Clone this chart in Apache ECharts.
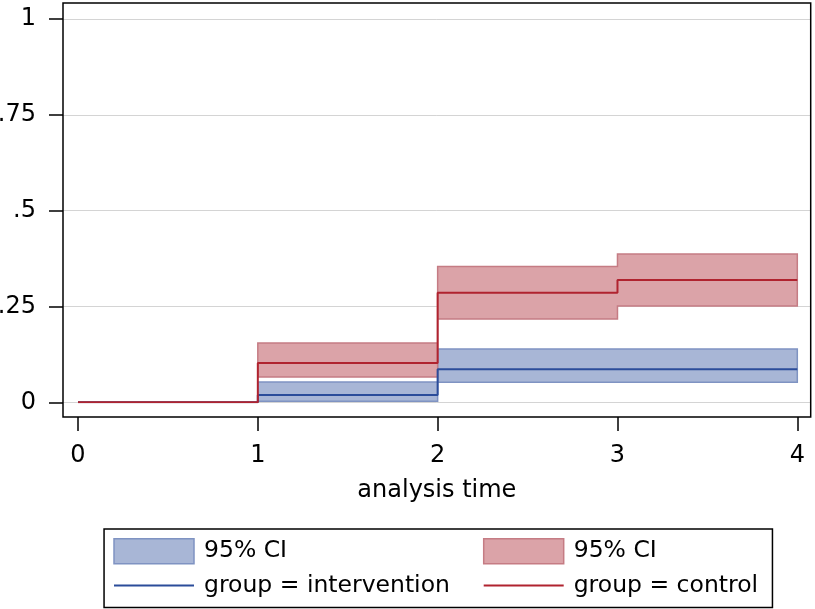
<!DOCTYPE html>
<html>
<head>
<meta charset="utf-8">
<script src="https://cdn.jsdelivr.net/npm/echarts@6/dist/echarts.min.js"></script>
<style>
html,body{margin:0;padding:0;background:#fff;}
#chart{width:815px;height:609px;}
</style>
</head>
<body>
<div id="chart"></div>
<script>
// ---- data ----
const xTicks = [0, 1, 2, 3, 4];
const yTicks = [0, 0.25, 0.5, 0.75, 1];
const yTickLabels = ['0', '.25', '.5', '.75', '1'];

const intervTimes = [0, 1, 2, 4];
const intervEst = [0, 0.019, 0.086, 0.086];
const intervBandEdges = [1, 2, 4];
const intervLo = [0.003, 0.052];
const intervHi = [0.053, 0.139];

const controlTimes = [0, 1, 2, 3, 4];
const controlEst = [0, 0.1025, 0.286, 0.319, 0.319];
const controlBandEdges = [1, 2, 3, 4];
const controlLo = [0.066, 0.217, 0.251];
const controlHi = [0.155, 0.354, 0.387];

const xTitle = 'analysis time';
const ciName1 = '95% CI';
const ciName2 = '95% CI ';
const lineName1 = 'group = intervention';
const lineName2 = 'group = control';

// ---- styles ----
const blueFill = '#a8b6d6', blueEdge = '#7f93c2', blueLine = '#2b4c9a';
const redFill = '#dba3a8', redEdge = '#c57c84', redLine = '#b0232f';
const FONT = '"DejaVu Sans", sans-serif';
const XMIN = -0.0834, XMAX = 4.0745;

function bandRender(edges, lo, hi, fill, stroke) {
  return function (params, api) {
    const pts = [];
    for (let i = 0; i < hi.length; i++) {
      pts.push(api.coord([edges[i], hi[i]]));
      pts.push(api.coord([edges[i + 1], hi[i]]));
    }
    for (let i = lo.length - 1; i >= 0; i--) {
      pts.push(api.coord([edges[i + 1], lo[i]]));
      pts.push(api.coord([edges[i], lo[i]]));
    }
    return {
      type: 'polygon',
      shape: { points: pts },
      style: { fill: fill, stroke: stroke, lineWidth: 1.5 }
    };
  };
}

const legendText = { fontSize: 23.5, color: '#000', fontFamily: FONT, padding: [0, 0, 0, 5] };

const chart = echarts.init(document.getElementById('chart'));
chart.setOption({
  animation: false,
  backgroundColor: '#fff',
  grid: [
    { left: 63, right: 4.3, top: 19, bottom: 206.7, outerBoundsMode: 'none', containLabel: false },
    { left: 63, right: 4.3, top: 3, bottom: 192, outerBoundsMode: 'none', containLabel: false, show: true, borderColor: '#000', borderWidth: 1.5, backgroundColor: 'transparent', z: 10 }
  ],
  xAxis: [
    { type: 'value', gridIndex: 0, min: XMIN, max: XMAX, show: false, axisLine: { onZero: false } },
    {
      type: 'value', gridIndex: 1, min: XMIN, max: XMAX, position: 'bottom',
      axisLine: { show: false, onZero: false },
      axisTick: { show: true, inside: false, length: 14, customValues: xTicks, lineStyle: { color: '#000', width: 1.5 } },
      axisLabel: { customValues: xTicks, margin: 27, fontSize: 24, color: '#000', fontFamily: FONT },
      splitLine: { show: false },
      name: xTitle, nameLocation: 'middle', nameGap: 62,
      nameTextStyle: { fontSize: 24, color: '#000', fontFamily: FONT }
    }
  ],
  yAxis: [
    {
      type: 'value', gridIndex: 0, min: 0, max: 1, interval: 0.25, position: 'left',
      axisLine: { show: false, onZero: false },
      axisTick: { show: true, inside: false, length: 14, lineStyle: { color: '#000', width: 1.5 } },
      axisLabel: {
        inside: false, margin: 27, fontSize: 24, color: '#000', fontFamily: FONT,
        formatter: function (v) { const i = yTicks.findIndex(t => Math.abs(t - v) < 1e-9); return i >= 0 ? yTickLabels[i] : ''; }
      },
      splitLine: { show: true, lineStyle: { color: '#d4d4d4', width: 1 } }
    },
    { type: 'value', gridIndex: 1, show: false, min: 0, max: 1, axisLine: { onZero: false } }
  ],
  legend: [
    {
      left: 113, top: 538, orient: 'vertical', itemWidth: 80, itemHeight: 25, itemGap: 9,
      padding: 0, selectedMode: false, textStyle: legendText,
      data: [
        { name: ciName1, icon: 'rect', itemStyle: { color: blueFill, borderColor: blueEdge, borderWidth: 1.5 } },
        { name: lineName1, itemStyle: { opacity: 0 }, lineStyle: { color: blueLine, width: 2 } }
      ]
    },
    {
      left: 482.7, top: 538, orient: 'vertical', itemWidth: 80, itemHeight: 25, itemGap: 9,
      padding: 0, selectedMode: false, textStyle: legendText,
      data: [
        { name: ciName2, icon: 'rect', itemStyle: { color: redFill, borderColor: redEdge, borderWidth: 1.5 } },
        { name: lineName2, itemStyle: { opacity: 0 }, lineStyle: { color: redLine, width: 2 } }
      ]
    }
  ],
  graphic: [
    { type: 'rect', left: 103.3, top: 528.3, shape: { width: 668.4, height: 78.4 }, style: { fill: 'transparent', stroke: '#000', lineWidth: 1.5 }, z: 100 }
  ],
  series: [
    {
      name: ciName1, type: 'custom', xAxisIndex: 0, yAxisIndex: 0, z: 1,
      itemStyle: { color: blueFill },
      renderItem: bandRender(intervBandEdges, intervLo, intervHi, blueFill, blueEdge),
      data: [[intervBandEdges[0], intervLo[0]]], silent: true
    },
    {
      name: ciName2, type: 'custom', xAxisIndex: 0, yAxisIndex: 0, z: 2,
      itemStyle: { color: redFill },
      renderItem: bandRender(controlBandEdges, controlLo, controlHi, redFill, redEdge),
      data: [[controlBandEdges[0], controlLo[0]]], silent: true
    },
    {
      name: lineName1, type: 'line', step: 'end', symbol: 'none', z: 3,
      xAxisIndex: 0, yAxisIndex: 0,
      itemStyle: { color: blueLine },
      lineStyle: { color: blueLine, width: 2 },
      data: intervTimes.map((t, i) => [t, intervEst[i]])
    },
    {
      name: lineName2, type: 'line', step: 'end', symbol: 'none', z: 4,
      xAxisIndex: 0, yAxisIndex: 0,
      itemStyle: { color: redLine },
      lineStyle: { color: redLine, width: 2 },
      data: controlTimes.map((t, i) => [t, controlEst[i]])
    }
  ]
});
</script>
</body>
</html>
